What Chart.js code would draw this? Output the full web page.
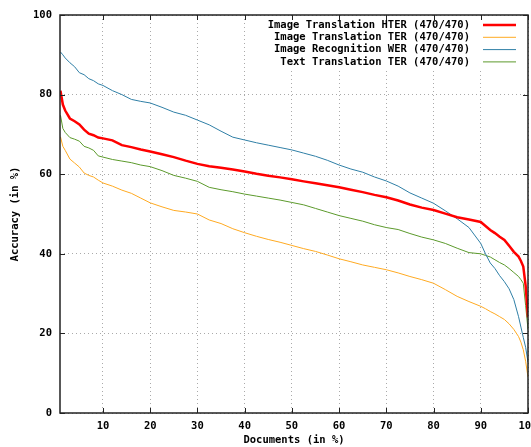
<!DOCTYPE html>
<html>
<head>
<meta charset="utf-8">
<script src="https://cdn.jsdelivr.net/npm/chart.js@4.4.1/dist/chart.umd.min.js"></script>
<style>
  html, body { margin: 0; padding: 0; background: #fff; }
  #wrap { width: 531px; height: 447px; }
</style>
</head>
<body>
<div id="wrap"><canvas id="accChart" width="531" height="447"></canvas></div>
<script>
// documents (in %) where the curves were read
const docs = [1, 1.5, 2, 3, 4, 5, 6, 7, 8, 9, 10, 12, 14, 16, 18, 20, 22.5, 25, 27.5, 30,
  32.5, 35, 37.5, 40, 42.5, 45, 47.5, 50, 52.5, 55, 57.5, 60, 62.5, 65, 67.5, 70,
  72.5, 75, 77.5, 80, 82.5, 85, 87.5, 90, 91, 92, 93, 94, 95, 96, 97, 98, 98.5, 99, 99.5, 100];

const imgHter = [81, 77.5, 76, 74, 73.3, 72.5, 71.2, 70.2, 69.8, 69.2, 69, 68.5, 67.3, 66.8, 66.2, 65.7, 65, 64.3, 63.4, 62.6,
  62, 61.6, 61.2, 60.7, 60.1, 59.6, 59.2, 58.75, 58.2, 57.7, 57.2, 56.7, 56.1, 55.5, 54.8, 54.2,
  53.4, 52.4, 51.6, 51, 50.1, 49.2, 48.6, 48, 47, 46, 45.2, 44.3, 43.5, 42, 40.5, 39.3, 38.2, 36.8, 32, 24];
const imgTer = [69.4, 67, 66, 63.8, 62.8, 61.8, 60.3, 59.7, 59.3, 58.5, 57.8, 57, 56, 55.2, 54, 52.8, 51.8, 50.9, 50.5, 50,
  48.5, 47.6, 46.3, 45.3, 44.4, 43.6, 42.9, 42.1, 41.3, 40.6, 39.7, 38.75, 38, 37.2, 36.6, 36,
  35.2, 34.3, 33.5, 32.6, 31, 29.3, 28, 26.8, 26.2, 25.5, 24.9, 24.2, 23.5, 22.4, 21, 19.2, 17.8, 15.9, 13, 9];
const imgWer = [90.7, 90, 89.2, 88, 87, 85.5, 85, 84, 83.5, 82.7, 82.3, 81, 80, 78.8, 78.3, 77.9, 76.8, 75.6, 74.8, 73.6,
  72.4, 70.8, 69.3, 68.6, 67.9, 67.3, 66.7, 66.1, 65.3, 64.5, 63.5, 62.3, 61.3, 60.5, 59.3, 58.3,
  57, 55.3, 54, 52.7, 50.8, 48.8, 46.6, 42.6, 40, 37.7, 36.3, 34.5, 33, 31.2, 28.5, 24.2, 21.6, 19, 16.5, 12.8];
const txtTer = [74.8, 71.5, 70.5, 69.2, 68.8, 68.3, 67, 66.6, 66, 64.6, 64.3, 63.7, 63.3, 62.9, 62.3, 61.9, 60.9, 59.7, 59, 58.2,
  56.7, 56.1, 55.6, 55, 54.5, 54, 53.5, 52.9, 52.3, 51.4, 50.5, 49.6, 48.9, 48.2, 47.3, 46.6,
  46.1, 45.1, 44.2, 43.5, 42.6, 41.4, 40.3, 40, 39.6, 39.2, 38.5, 37.8, 37.2, 36.3, 35.3, 34.3, 33.5, 32.6, 27, 21];

const xTicks = [10, 20, 30, 40, 50, 60, 70, 80, 90, 100];
const yTicks = [0, 20, 40, 60, 80, 100];

const font = { family: "'DejaVu Sans Mono', monospace", size: 10.5, weight: "bold" };

function pts(vals) {
  return docs.map((d, i) => ({ x: d, y: vals[i] }));
}

// gnuplot-like frame, inward ticks and the boxed key
const frame = {
  id: "frame",
  beforeDatasetsDraw(chart) {
    const { ctx, chartArea: a } = chart;
    ctx.save();
    ctx.fillStyle = "#fff";
    ctx.fillRect(262, a.top + 3, a.right - 263, 51);
    ctx.restore();
  },
  afterDatasetsDraw(chart) {
    const { ctx, chartArea: a, scales } = chart;
    ctx.save();
    ctx.strokeStyle = "#222";
    ctx.lineWidth = 1.5;
    ctx.strokeRect(a.left, a.top, a.right - a.left, a.bottom - a.top);
    ctx.lineWidth = 1;
    ctx.beginPath();
    xTicks.forEach((t) => {
      const x = Math.round(scales.x.getPixelForValue(t)) + 0.5;
      ctx.moveTo(x, a.bottom); ctx.lineTo(x, a.bottom - 5);
      ctx.moveTo(x, a.top); ctx.lineTo(x, a.top + 5);
    });
    yTicks.forEach((t) => {
      const y = Math.round(scales.y.getPixelForValue(t)) + 0.5;
      ctx.moveTo(a.left, y); ctx.lineTo(a.left + 5, y);
      ctx.moveTo(a.right, y); ctx.lineTo(a.right - 5, y);
    });
    ctx.stroke();

    // key
    ctx.font = "bold 10.5px 'DejaVu Sans Mono', monospace";
    ctx.textAlign = "right";
    ctx.textBaseline = "middle";
    chart.data.datasets.forEach((ds, i) => {
      const y = 25 + i * 12.3;
      ctx.fillStyle = "#000";
      ctx.fillText(ds.label, 470, y);
      ctx.strokeStyle = ds.borderColor;
      ctx.lineWidth = ds.borderWidth;
      ctx.beginPath();
      ctx.moveTo(483, y); ctx.lineTo(516, y);
      ctx.stroke();
    });
    ctx.restore();
  }
};

new Chart(document.getElementById("accChart"), {
  type: "line",
  data: {
    datasets: [
      { label: "Image Translation HTER (470/470)", data: pts(imgHter), borderColor: "#ff0000", borderWidth: 2.5 },
      { label: "Image Translation TER (470/470)", data: pts(imgTer), borderColor: "#ffaa22", borderWidth: 1 },
      { label: "Image Recognition WER (470/470)", data: pts(imgWer), borderColor: "#2f7fa6", borderWidth: 1 },
      { label: "Text Translation TER (470/470)", data: pts(txtTer), borderColor: "#5c9a2c", borderWidth: 1 },
    ],
  },
  options: {
    responsive: false,
    animation: false,
    layout: { padding: { top: 15, right: 3, left: 0, bottom: 0 } },
    elements: { point: { radius: 0 }, line: { tension: 0 } },
    plugins: { legend: { display: false }, tooltip: { enabled: false } },
    scales: {
      x: {
        type: "linear",
        min: 0.9,
        max: 100,
        afterBuildTicks: (s) => { s.ticks = xTicks.map((v) => ({ value: v })); },
        afterFit: (s) => { s.height = 34; s.paddingLeft = 0; s.paddingRight = 0; },
        grid: { color: "#aaa", drawTicks: false },
        border: { display: false, dash: [1, 3] },
        ticks: { color: "#000", font: font, padding: 7, maxRotation: 0 },
        title: { display: true, text: "Documents (in %)", color: "#000", font: font, padding: { top: 1, bottom: 0 } },
      },
      y: {
        min: 0,
        max: 100,
        afterBuildTicks: (s) => { s.ticks = yTicks.map((v) => ({ value: v })); },
        afterFit: (s) => { s.width = 60; s.paddingTop = 0; s.paddingBottom = 0; },
        grid: { color: "#aaa", drawTicks: false },
        border: { display: false, dash: [1, 3] },
        ticks: { color: "#000", font: font, padding: 8 },
        title: { display: true, text: "Accuracy (in %)", color: "#000", font: font, padding: { top: 9, bottom: 0 } },
      },
    },
  },
  plugins: [frame],
});
</script>
</body>
</html>
